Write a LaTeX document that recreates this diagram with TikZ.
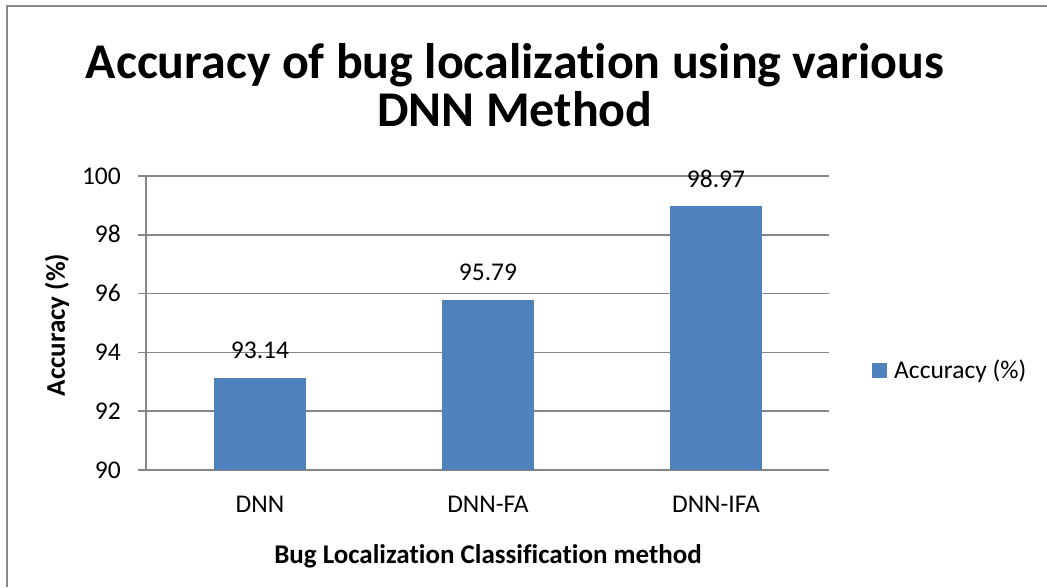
\documentclass[tikz,border=0pt]{standalone}
\usepackage{fontspec}
\setmainfont{Carlito}[Ligatures=NoCommon]
\usepackage{tikz}
\usetikzlibrary{positioning}
\definecolor{gridgray}{HTML}{868686}
\definecolor{framegray}{HTML}{888888}
\definecolor{barblue}{HTML}{4F81BD}

\begin{document}
\begin{tikzpicture}[x=1pt, y=-1pt,
    txt/.style={font=\fontsize{25.5}{30}\selectfont, inner sep=0pt},
    boldtxt/.style={font=\fontsize{27}{32}\selectfont\bfseries, inner sep=0pt},
    bartop/.style={fill=barblue, inner sep=0pt, minimum width=92pt, anchor=south},
    grid line/.style={gridgray, line width=1.5pt}]
    \useasboundingbox (0,0) rectangle (1047,587);
    \draw[framegray, line width=2pt] (7,587) -- (7,6) -- (1047,6);

    \node[font=\fontsize{50}{48}\selectfont\bfseries, align=center, inner sep=0pt] (title) at (515,85) {Accuracy of bug localization using various\\DNN Method};

    % grid and axis
    \draw[grid line] (138,176) -- (829,176);
    \draw[grid line] (138,234.8) -- (829,234.8);
    \draw[grid line] (138,293.6) -- (829,293.6);
    \draw[grid line] (138,352.4) -- (829,352.4);
    \draw[grid line] (138,411.2) -- (829,411.2);
    \draw[grid line] (138,470) -- (829,470);
    \draw[grid line] (146,176) -- (146,470);

    \node[txt, anchor=base east] (t100) at (121,184) {100};
    \node[txt, anchor=base east] (t98) at (121,242.8) {98};
    \node[txt, anchor=base east] (t96) at (121,301.6) {96};
    \node[txt, anchor=base east] (t94) at (121,360.4) {94};
    \node[txt, anchor=base east] (t92) at (121,419.2) {92};
    \node[txt, anchor=base east] (t90) at (121,478) {90};

    % bars
    \node[bartop, minimum height=92.3pt] (b1) at (260,470) {};
    \node[bartop, minimum height=170.3pt] (b2) at (488,470) {};
    \node[bartop, minimum height=263.7pt] (b3) at (716,470) {};

    \node[txt, above=18pt of b1] (v1) {93.14};
    \node[txt, above=18pt of b2] (v2) {95.79};
    \node[txt, above=18pt of b3] (v3) {98.97};

    \node[txt, below=26pt of b1] (c1) {DNN};
    \node[txt, below=26pt of b2] (c2) {DNN-FA};
    \node[txt, below=26pt of b3] (c3) {DNN-IFA};

    % axis titles
    \node[boldtxt, anchor=base] (xtitle) at (488,563) {Bug Localization Classification method};
    \node[boldtxt, rotate=90] (ytitle) at (57,325) {Accuracy (\%)};

    % legend
    \node[fill=barblue, inner sep=0pt, minimum size=14.7pt] (key) at (879.5,370.5) {};
    \node[txt, anchor=base west] (keytext) at (894,378) {Accuracy (\%)};
  \end{tikzpicture}
\end{document}
